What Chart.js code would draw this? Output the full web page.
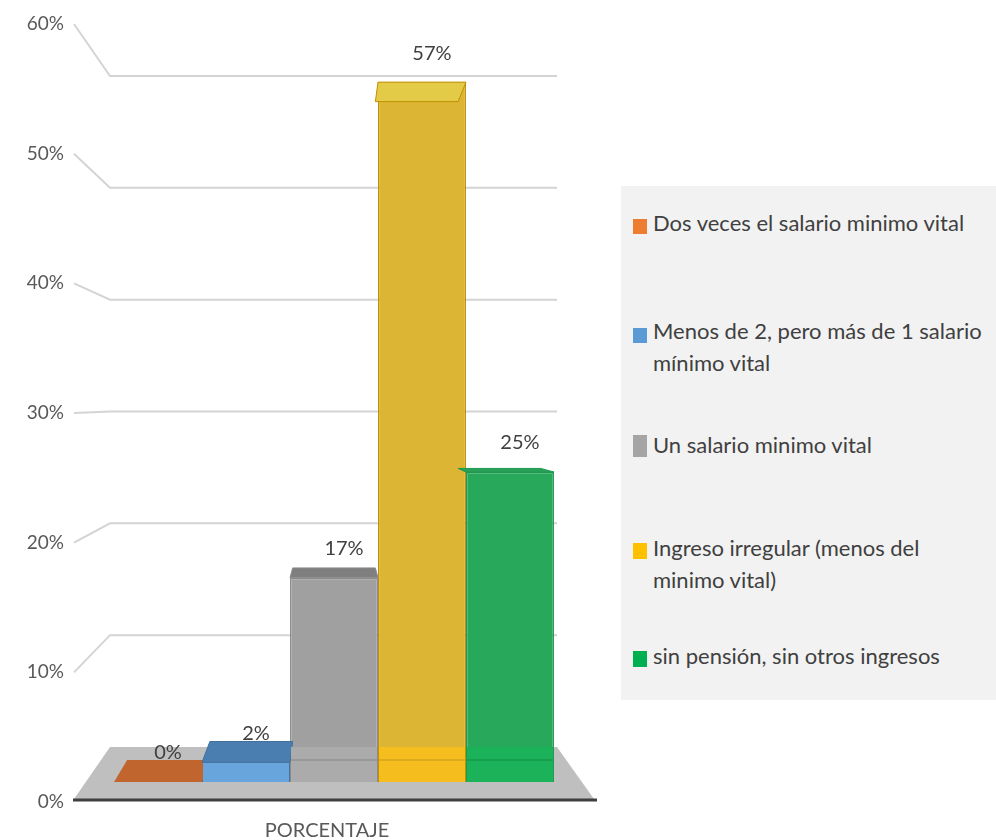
<!DOCTYPE html>
<html lang="es">
<head>
<meta charset="utf-8">
<title>PORCENTAJE</title>
<script src="https://cdn.jsdelivr.net/npm/chart.js@4.4.1/dist/chart.umd.min.js"></script>
<style>
  html, body { margin: 0; padding: 0; background: #fff; }
  #wrap { position: relative; width: 996px; height: 840px; overflow: hidden; }
  #chart { position: absolute; left: 0; top: 0; }
  #legend {
    position: absolute; left: 621px; top: 186px; width: 375px; height: 514px;
    background: #f2f2f2; font-family: Lato, sans-serif; font-size: 22px; color: #404040;
  }
  .item { position: absolute; left: 12px; width: 360px; }
  .item .box { position: absolute; left: 0; width: 14px; height: 15px; }
  .item .txt { margin-left: 20px; width: 340px; line-height: 32px; }
</style>
</head>
<body>
<div id="wrap">
  <canvas id="chart" width="996" height="840"></canvas>
  <div id="legend"></div>
</div>
<script>
// --- DATOS ---
const CATEGORIES = ['PORCENTAJE'];
const SERIES = [
    'Dos veces el salario minimo vital',
    'Menos de 2, pero más de 1 salario mínimo vital',
    'Un salario minimo vital',
    'Ingreso irregular (menos del minimo vital)',
    'sin pensión, sin otros ingresos'
];
const VALUES = [0, 0.016, 0.166, 0.569, 0.252];
const Y_TICKS = [0, 0.1, 0.2, 0.3, 0.4, 0.5, 0.6];

// --- ESTILO ---
const LEGEND_COLORS = ['#ed7d31', '#5b9bd5', '#a5a5a5', '#ffc000', '#00b050'];
const FRONT = ['#c5682f', '#5b9bd5', '#a0a0a0', '#dcb534', '#27a85a'];
const OVER = ['#c5682f', '#68a5dc', '#ababab', '#f5be1e', '#1cb25a'];
const TOP = ['#c0652e', '#4a7db0', '#7f7f7f', '#e3cb48', '#2a9f58'];
const EDGE = ['#a8561f', '#41719c', '#8c8c8c', '#bf9000', '#1e9a50'];
const pct = v => Math.round(v * 100) + '%';

// --- LEYENDA (HTML) ---
const legendEl = document.getElementById('legend');
const itemTops = [21, 129, 243, 346, 454];
const boxTops = [12, 13, 6, 11, 11];
const boxHeights = [15, 15, 22, 16, 16];
SERIES.forEach((name, i) => {
    const item = document.createElement('div');
    item.className = 'item';
    item.style.top = itemTops[i] + 'px';
    item.innerHTML = `<span class="box" style="background:${LEGEND_COLORS[i]};top:${boxTops[i]}px;height:${boxHeights[i]}px"></span><div class="txt">${name}</div>`;
    legendEl.appendChild(item);
});

// --- ESCENA 3D: piso, rejilla, caras superiores y etiquetas ---
const scene3d = {
    id: 'scene3d',
    beforeDatasetsDraw(chart) {
        const { ctx, chartArea: a, scales } = chart;
        const y = scales.y, wall = scales.yWall;
        const bl = a.left + 36, br = a.right - 37;
        const w0 = wall.getPixelForValue(0);
        const f0 = y.getPixelForValue(0) - 3;
        ctx.save();
        // piso
        ctx.fillStyle = '#bfbfbf';
        ctx.beginPath();
        ctx.moveTo(a.left, f0);
        ctx.lineTo(bl, w0);
        ctx.lineTo(br, w0);
        ctx.lineTo(a.right, f0);
        ctx.closePath();
        ctx.fill();
        ctx.strokeStyle = '#3f3f3f';
        ctx.lineWidth = 3;
        ctx.beginPath();
        ctx.moveTo(a.left - 1, f0 + 1);
        ctx.lineTo(a.right + 3, f0 + 1);
        ctx.stroke();
        // rejilla (pared lateral + pared del fondo)
        ctx.strokeStyle = '#d4d4d4';
        ctx.lineWidth = 2;
        Y_TICKS.forEach(v => {
            if (!v) return;
            const fy = y.getPixelForValue(v), by = wall.getPixelForValue(v);
            ctx.beginPath();
            ctx.moveTo(a.left, fy);
            ctx.lineTo(bl, by);
            ctx.lineTo(br, by);
            ctx.stroke();
        });
        ctx.restore();
    },
    afterDatasetsDraw(chart) {
        const { ctx, chartArea: a, scales } = chart;
        const back = scales.yBarBack;
        const w0 = scales.yWall.getPixelForValue(0);
        const hz = scales.y.getPixelForValue(0.3);
        const vx = (a.left + a.right) / 2;
        ctx.save();
        chart.data.datasets.forEach((ds, i) => {
            const bar = chart.getDatasetMeta(i).data[0];
            const { x, y: top, base, width } = bar.getProps(['x', 'y', 'base', 'width'], true);
            const v = ds.data[0];
            const x1 = x - width / 2, x2 = x + width / 2;
            const backBase = back.getPixelForValue(0);
            const backTop = back.getPixelForValue(v);
            const k = (backBase - hz) / (base - hz);
            const bx1 = vx + (x1 - vx) * k, bx2 = vx + (x2 - vx) * k;

            // parte de la barra delante del piso
            if (top < base) {
                const t = Math.max(top, w0);
                ctx.fillStyle = OVER[i];
                ctx.fillRect(x1 + 1, t, width - 2, base - t);
                if (top < backBase) {
                    ctx.strokeStyle = 'rgba(0,0,0,0.10)';
                    ctx.lineWidth = 2;
                    ctx.beginPath();
                    ctx.moveTo(x1 + 1, backBase);
                    ctx.lineTo(x2 - 1, backBase);
                    ctx.stroke();
                }
            }
            // cara superior
            ctx.fillStyle = TOP[i];
            ctx.strokeStyle = EDGE[i];
            ctx.lineWidth = 1;
            ctx.beginPath();
            ctx.moveTo(x1, top);
            ctx.lineTo(x2, top);
            ctx.lineTo(bx2, backTop);
            ctx.lineTo(bx1, backTop);
            ctx.closePath();
            ctx.fill();
            if (top < base) ctx.stroke();

            // etiqueta de datos
            ctx.fillStyle = '#404040';
            ctx.font = '20px Lato';
            ctx.textAlign = 'center';
            ctx.textBaseline = 'middle';
            ctx.fillText(pct(v), x + 10, top - 29);
        });
        ctx.restore();
    }
};

// --- GRÁFICO ---
new Chart(document.getElementById('chart'), {
    type: 'bar',
    data: {
        labels: CATEGORIES,
        datasets: SERIES.map((name, i) => ({
            label: name,
            data: [VALUES[i]],
            yAxisID: 'yBar',
            backgroundColor: FRONT[i],
            borderColor: EDGE[i],
            borderWidth: 1.5,
            barPercentage: 1,
            categoryPercentage: 0.846
        }))
    },
    options: {
        responsive: false,
        animation: false,
        layout: { padding: { left: 0, top: 24, right: 402, bottom: 0 } },
        plugins: {
            legend: { display: false },
            tooltip: { enabled: false }
        },
        scales: {
            x: {
                grid: { display: false, drawTicks: false },
                border: { display: false },
                ticks: { font: { family: 'Lato', size: 20 }, color: '#595959', padding: 17, labelOffset: -7 },
                afterFit: s => { s.height = 38; }
            },
            y: {
                position: 'left',
                min: 0,
                max: 0.6,
                afterBuildTicks: s => { s.ticks = Y_TICKS.map(v => ({ value: v })); },
                ticks: { callback: v => pct(v), font: { family: 'Lato', size: 19 }, color: '#595959', padding: 10 },
                grid: { display: false, drawTicks: false },
                border: { display: false },
                afterFit: s => { s.width = 74; }
            },
            // escalas ocultas para la perspectiva (cara frontal, cara trasera, pared del fondo)
            yBar: { display: false, min: -0.01626, max: 0.61626 },
            yBarBack: { display: false, min: -0.0363, max: 0.6361 },
            yWall: { display: false, min: -0.0492, max: 0.6465 }
        }
    },
    plugins: [scene3d]
});
</script>
</body>
</html>
